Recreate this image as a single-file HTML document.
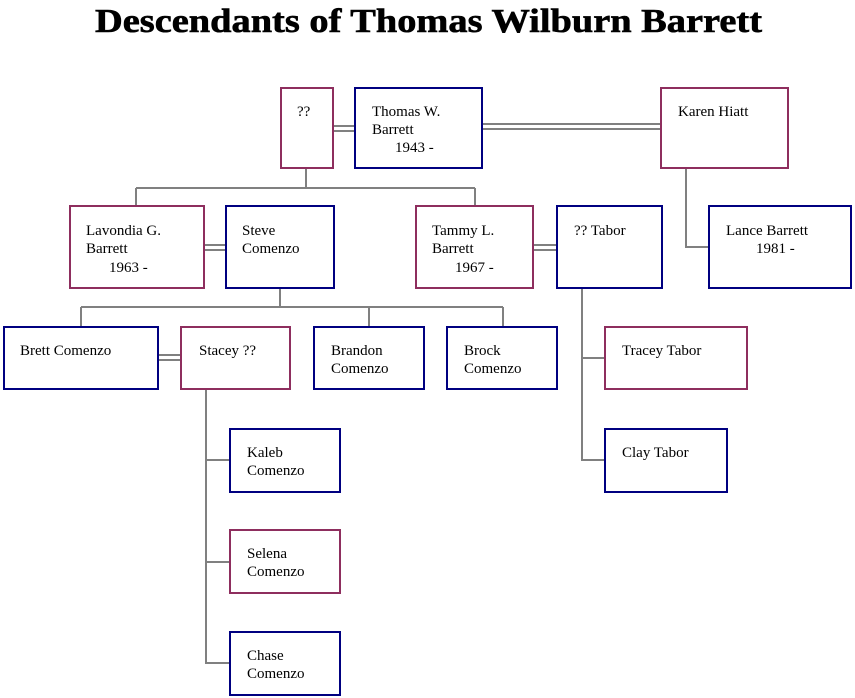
<!DOCTYPE html>
<html><head><meta charset="utf-8"><style>
html,body{margin:0;padding:0;background:#fff;}
svg{display:block;}
text{font-family:"Liberation Serif",serif;font-size:15px;fill:#000;}
.b{fill:#fff;stroke:#000080;stroke-width:2;}
.m{fill:#fff;stroke:#8E2E5E;stroke-width:2;}
.l{stroke:#808080;stroke-width:2;fill:none;}
</style></head><body>
<svg width="855" height="698" viewBox="0 0 855 698" xmlns="http://www.w3.org/2000/svg">
<text x="95" y="32" style="font-size:34px;font-weight:bold;stroke:#000;stroke-width:0.6" textLength="667" lengthAdjust="spacingAndGlyphs">Descendants of Thomas Wilburn Barrett</text>
<path class="l" d="M333 126H355M333 131H355M482 124H661M482 129H661
M306 168V188M136 188H475M136 188V206M475 188V206
M686 168V247H709
M204 245H226M204 250H226M533 245H557M533 250H557
M280 288V307M81 307H503M81 307V327M369 307V327M503 307V327
M158 355H181M158 360H181
M206 389V663H230M206 460H230M206 562H230
M582 288V460H605M582 358H605"/>
<rect class="m" x="281" y="88" width="52" height="80"/>
<rect class="b" x="355" y="88" width="127" height="80"/>
<rect class="m" x="661" y="88" width="127" height="80"/>
<rect class="m" x="70" y="206" width="134" height="82"/>
<rect class="b" x="226" y="206" width="108" height="82"/>
<rect class="m" x="416" y="206" width="117" height="82"/>
<rect class="b" x="557" y="206" width="105" height="82"/>
<rect class="b" x="709" y="206" width="142" height="82"/>
<rect class="b" x="4" y="327" width="154" height="62"/>
<rect class="m" x="181" y="327" width="109" height="62"/>
<rect class="b" x="314" y="327" width="110" height="62"/>
<rect class="b" x="447" y="327" width="110" height="62"/>
<rect class="m" x="605" y="327" width="142" height="62"/>
<rect class="b" x="230" y="429" width="110" height="63"/>
<rect class="m" x="230" y="530" width="110" height="63"/>
<rect class="b" x="230" y="632" width="110" height="63"/>
<rect class="b" x="605" y="429" width="122" height="63"/>
<text x="297" y="116">??</text>
<text x="372" y="116">Thomas W.</text><text x="372" y="134">Barrett</text><text x="395" y="152">1943 -</text>
<text x="678" y="116">Karen Hiatt</text>
<text x="86" y="235">Lavondia G.</text><text x="86" y="253">Barrett</text><text x="109" y="272">1963 -</text>
<text x="242" y="235">Steve</text><text x="242" y="253">Comenzo</text>
<text x="432" y="235">Tammy L.</text><text x="432" y="253">Barrett</text><text x="455" y="272">1967 -</text>
<text x="574" y="235">?? Tabor</text>
<text x="726" y="235">Lance Barrett</text><text x="756" y="253">1981 -</text>
<text x="20" y="355">Brett Comenzo</text>
<text x="199" y="355">Stacey ??</text>
<text x="331" y="355">Brandon</text><text x="331" y="373">Comenzo</text>
<text x="464" y="355">Brock</text><text x="464" y="373">Comenzo</text>
<text x="622" y="355">Tracey Tabor</text>
<text x="247" y="457">Kaleb</text><text x="247" y="475">Comenzo</text>
<text x="247" y="558">Selena</text><text x="247" y="576">Comenzo</text>
<text x="247" y="660">Chase</text><text x="247" y="678">Comenzo</text>
<text x="622" y="457">Clay Tabor</text>
</svg>
</body></html>
